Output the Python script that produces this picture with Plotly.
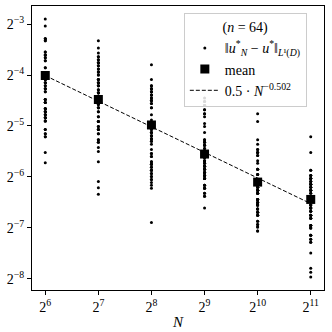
import plotly.graph_objects as go

# ---- data (errors stored as log2 exponents) ----
N_values = [64, 128, 256, 512, 1024, 2048]

log2_err_N64 = [-2.90, -3.04, -3.29, -3.29, -3.33, -3.33, -3.55, -3.55, -3.61, -3.61,
                -3.66, -3.66, -3.72, -3.72, -3.86, -3.86, -4.09, -4.09, -4.09, -4.15,
                -4.15, -4.21, -4.21, -4.27, -4.27, -4.33, -4.33, -4.48, -4.48, -4.54,
                -4.54, -4.54, -4.66, -4.66, -4.66, -4.72, -4.72, -4.72, -4.78, -4.78,
                -4.78, -4.84, -4.84, -4.84, -4.90, -4.90, -4.90, -5.07, -5.07, -5.15,
                -5.15, -5.21, -5.21, -5.52, -5.72, -3.61, -4.09, -4.15, -4.27, -4.66,
                -4.72, -4.84, -3.29, -4.48]
log2_err_N128 = [-3.33, -3.47, -3.57, -3.64, -3.64, -3.70, -3.70, -3.76, -3.76, -3.82,
                 -3.82, -3.88, -3.88, -3.94, -3.94, -4.00, -4.00, -4.09, -4.09, -4.15,
                 -4.15, -4.21, -4.21, -4.29, -4.29, -4.35, -4.35, -4.41, -4.41, -4.58,
                 -4.58, -4.64, -4.64, -4.72, -4.72, -4.82, -4.82, -4.91, -4.91, -5.01,
                 -5.01, -5.07, -5.07, -5.15, -5.15, -5.27, -5.27, -5.32, -5.32, -5.42,
                 -5.50, -5.70, -6.09, -6.21, -6.34, -3.76, -3.94, -4.09, -4.21, -4.35,
                 -4.64, -4.91, -5.07, -4.15]
log2_err_N256 = [-3.80, -4.09, -4.21, -4.21, -4.27, -4.27, -4.33, -4.33, -4.39, -4.39,
                 -4.45, -4.45, -4.50, -4.50, -4.56, -4.56, -4.64, -4.64, -4.78, -4.88,
                 -4.93, -5.07, -5.07, -5.13, -5.13, -5.19, -5.19, -5.25, -5.25, -5.30,
                 -5.30, -5.36, -5.46, -5.54, -5.54, -5.60, -5.60, -5.70, -5.70, -5.75,
                 -5.75, -5.81, -5.81, -5.87, -5.87, -5.93, -5.93, -5.99, -5.99, -6.05,
                 -6.05, -6.11, -6.16, -6.22, -6.89, -4.27, -4.39, -4.50, -5.13, -5.25,
                 -5.75, -5.87, -4.33, -5.19]
log2_err_N512 = [-4.45, -4.52, -4.52, -4.60, -4.60, -4.68, -4.68, -4.76, -4.76, -4.82,
                 -4.95, -5.01, -5.13, -5.27, -5.27, -5.32, -5.32, -5.38, -5.38, -5.44,
                 -5.44, -5.62, -5.62, -5.68, -5.68, -5.73, -5.73, -5.79, -5.79, -5.79,
                 -5.85, -5.85, -5.85, -5.91, -5.91, -5.91, -5.97, -5.97, -5.97, -6.03,
                 -6.03, -6.03, -6.16, -6.16, -6.22, -6.22, -6.32, -6.32, -6.38, -6.38,
                 -6.61, -5.62, -5.73, -5.85, -5.91, -5.97, -6.03, -6.16, -5.79, -5.68,
                 -5.38, -5.32, -4.60, -6.22]
log2_err_N1024 = [-4.76, -4.91, -5.27, -5.36, -5.46, -5.46, -5.52, -5.52, -5.58, -5.58,
                  -5.68, -5.73, -5.85, -5.85, -5.95, -5.95, -6.20, -6.20, -6.20, -6.26,
                  -6.26, -6.26, -6.32, -6.32, -6.32, -6.44, -6.44, -6.44, -6.50, -6.50,
                  -6.50, -6.55, -6.55, -6.55, -6.63, -6.63, -6.63, -6.69, -6.69, -6.75,
                  -6.75, -6.75, -6.87, -6.87, -6.93, -6.93, -6.98, -6.98, -7.06, -7.06,
                  -6.20, -6.26, -6.32, -6.44, -6.50, -6.55, -6.63, -6.69, -5.52, -5.85,
                  -5.95, -6.44, -6.55, -6.26]
log2_err_N2048 = [-5.21, -5.52, -5.87, -5.87, -5.97, -5.97, -6.03, -6.03, -6.09, -6.09,
                  -6.14, -6.14, -6.20, -6.20, -6.26, -6.26, -6.32, -6.32, -6.55, -6.55,
                  -6.55, -6.61, -6.61, -6.61, -6.67, -6.67, -6.75, -6.75, -6.75, -6.81,
                  -6.81, -6.95, -6.95, -6.95, -7.00, -7.00, -7.14, -7.14, -7.22, -7.22,
                  -7.28, -7.28, -7.49, -7.79, -7.87, -7.96, -5.97, -6.03, -6.09, -6.14,
                  -6.20, -6.26, -6.55, -6.61, -6.67, -6.75, -6.81, -6.95, -7.00, -7.14,
                  -6.03, -6.14, -6.26, -6.61]

log2_mean = [-4.01, -4.48, -4.98, -5.55, -6.10, -6.44]

fit_coef = 0.5
fit_rate = -0.502

y_tick_exps = [-3, -4, -5, -6, -7, -8]
x_tick_exps = [6, 7, 8, 9, 10, 11]

# ---- build traces ----
all_cols = [log2_err_N64, log2_err_N128, log2_err_N256,
            log2_err_N512, log2_err_N1024, log2_err_N2048]
xs, ys = [], []
for n, col in zip(N_values, all_cols):
    for e in col:
        xs.append(n)
        ys.append(2.0 ** e)

mean_vals = [2.0 ** e for e in log2_mean]
fit_vals = [fit_coef * n ** fit_rate for n in N_values]

FONT = "Liberation Serif"

fig = go.Figure()
fig.add_trace(go.Scatter(
    x=xs, y=ys, mode="markers",
    marker=dict(color="black", size=3, symbol="circle", line=dict(width=0)),
    name="‖<i>u</i><sup>*</sup><sub><i>N</i></sub> − <i>u</i><sup>*</sup>‖<sub><i>L</i>¹(<i>D</i>)</sub>",
))
fig.add_trace(go.Scatter(
    x=N_values, y=mean_vals, mode="markers",
    marker=dict(color="black", size=9, symbol="square", line=dict(width=0)),
    name="mean",
))
fig.add_trace(go.Scatter(
    x=N_values, y=fit_vals, mode="lines",
    line=dict(color="black", width=1, dash="4px,2px"),
    name="0.5 · <i>N</i><sup>−0.502</sup>",
))

log2_10 = 0.30102999566
fig.update_layout(
    width=332, height=332,
    margin=dict(l=32, r=8, t=6, b=42),
    plot_bgcolor="white", paper_bgcolor="white",
    font=dict(family=FONT, size=14, color="black"),
    showlegend=True,
    legend=dict(
        x=0.52, y=0.975, xanchor="left", yanchor="top",
        bgcolor="rgba(255,255,255,0.85)", bordercolor="#cccccc", borderwidth=1,
        font=dict(family=FONT, size=14),
        title=dict(text="(<i>n</i> = 64)", side="top center", font=dict(family=FONT, size=14)),
        itemwidth=30, tracegroupgap=0,
    ),
    xaxis=dict(
        type="log", range=[5.75 * log2_10, 11.25 * log2_10],
        tickvals=[2 ** k for k in x_tick_exps],
        ticktext=[f"2<sup>{k}</sup>" for k in x_tick_exps],
        ticks="outside", ticklen=4, tickwidth=1, tickcolor="black",
        showline=True, linecolor="black", linewidth=1, mirror=True,
        showgrid=False, zeroline=False, automargin=False,
        title=dict(text="<i>N</i>", standoff=2, font=dict(size=15)),
    ),
    yaxis=dict(
        type="log", range=[-8.216 * log2_10, -2.647 * log2_10],
        tickvals=[2.0 ** k for k in y_tick_exps],
        ticktext=[f"2<sup>−{-k}</sup>" for k in y_tick_exps],
        ticks="outside", ticklen=4, tickwidth=1, tickcolor="black",
        showline=True, linecolor="black", linewidth=1, mirror=True,
        showgrid=False, zeroline=False, automargin=False,
    ),
)

fig.write_html(
    "out.html",
    config={"displayModeBar": False, "staticPlot": True},
    post_script="document.body.style.margin='0';document.body.style.overflow='hidden';",
)
